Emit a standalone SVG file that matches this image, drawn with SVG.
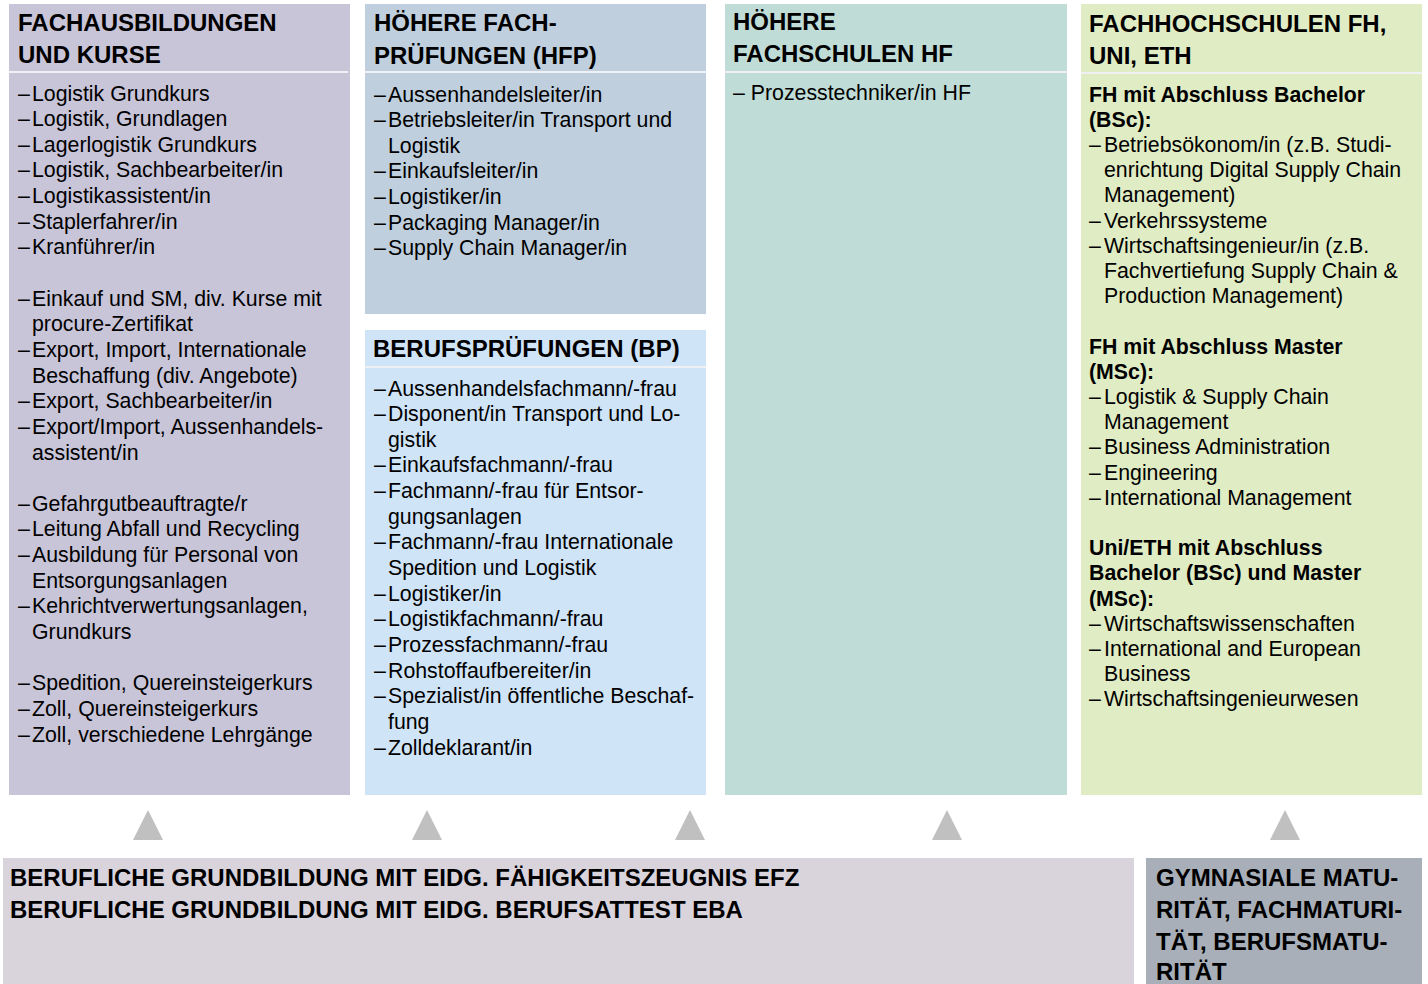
<svg xmlns="http://www.w3.org/2000/svg" width="1428" height="984" viewBox="0 0 1428 984">
<style>
text{font-family:"Liberation Sans",Arial,sans-serif;fill:#000}
.h{font-size:24px;font-weight:bold}
.t{font-size:21.3px}
.b{font-size:21.3px;font-weight:bold}
.sep{stroke:#eef0f4;stroke-width:2}
.tri{fill:#c0c0c0}
</style>
<rect width="1428" height="984" fill="#ffffff"/>

<g id="fachausbildungen">
<rect x="9" y="4" width="341" height="791" fill="#c9c5d8"/>
<line class="sep" x1="9" y1="72" x2="348" y2="72"/>
<text class="h" x="18" y="31">FACHAUSBILDUNGEN</text>
<text class="h" x="18" y="63">UND KURSE</text>
<text class="t" x="18" y="100.5">–<tspan x="32">Logistik Grundkurs</tspan></text>
<text class="t" x="18" y="126.1">–<tspan x="32">Logistik, Grundlagen</tspan></text>
<text class="t" x="18" y="151.8">–<tspan x="32">Lagerlogistik Grundkurs</tspan></text>
<text class="t" x="18" y="177.4">–<tspan x="32">Logistik, Sachbearbeiter/in</tspan></text>
<text class="t" x="18" y="203.1">–<tspan x="32">Logistikassistent/in</tspan></text>
<text class="t" x="18" y="228.7">–<tspan x="32">Staplerfahrer/in</tspan></text>
<text class="t" x="18" y="254.3">–<tspan x="32">Kranführer/in</tspan></text>
<text class="t" x="18" y="305.6">–<tspan x="32">Einkauf und SM, div. Kurse mit</tspan></text>
<text class="t" x="32" y="331.3">procure-Zertifikat</text>
<text class="t" x="18" y="356.9">–<tspan x="32">Export, Import, Internationale</tspan></text>
<text class="t" x="32" y="382.5">Beschaffung (div. Angebote)</text>
<text class="t" x="18" y="408.2">–<tspan x="32">Export, Sachbearbeiter/in</tspan></text>
<text class="t" x="18" y="433.8">–<tspan x="32">Export/Import, Aussenhandels-</tspan></text>
<text class="t" x="32" y="459.5">assistent/in</text>
<text class="t" x="18" y="510.7">–<tspan x="32">Gefahrgutbeauftragte/r</tspan></text>
<text class="t" x="18" y="536.4">–<tspan x="32">Leitung Abfall und Recycling</tspan></text>
<text class="t" x="18" y="562">–<tspan x="32">Ausbildung für Personal von</tspan></text>
<text class="t" x="32" y="587.7">Entsorgungsanlagen</text>
<text class="t" x="18" y="613.3">–<tspan x="32">Kehrichtverwertungsanlagen,</tspan></text>
<text class="t" x="32" y="638.9">Grundkurs</text>
<text class="t" x="18" y="690.2">–<tspan x="32">Spedition, Quereinsteigerkurs</tspan></text>
<text class="t" x="18" y="715.9">–<tspan x="32">Zoll, Quereinsteigerkurs</tspan></text>
<text class="t" x="18" y="741.5">–<tspan x="32">Zoll, verschiedene Lehrgänge</tspan></text>
</g>

<g id="hfp">
<rect x="365" y="4" width="341" height="310" fill="#bfcfdd"/>
<line class="sep" x1="365" y1="72" x2="706" y2="72"/>
<text class="h" x="374" y="31">HÖHERE FACH-</text>
<text class="h" x="374" y="64">PRÜFUNGEN (HFP)</text>
<text class="t" x="374" y="101.5">–<tspan x="388">Aussenhandelsleiter/in</tspan></text>
<text class="t" x="374" y="127.1">–<tspan x="388">Betriebsleiter/in Transport und</tspan></text>
<text class="t" x="388" y="152.8">Logistik</text>
<text class="t" x="374" y="178.4">–<tspan x="388">Einkaufsleiter/in</tspan></text>
<text class="t" x="374" y="204.1">–<tspan x="388">Logistiker/in</tspan></text>
<text class="t" x="374" y="229.7">–<tspan x="388">Packaging Manager/in</tspan></text>
<text class="t" x="374" y="255.3">–<tspan x="388">Supply Chain Manager/in</tspan></text>
</g>

<g id="bp">
<rect x="365" y="330" width="341" height="465" fill="#d0e4f7"/>
<line class="sep" x1="365" y1="367" x2="706" y2="367"/>
<text class="h" x="373" y="357">BERUFSPRÜFUNGEN (BP)</text>
<text class="t" x="374" y="395.5">–<tspan x="388">Aussenhandelsfachmann/-frau</tspan></text>
<text class="t" x="374" y="421.1">–<tspan x="388">Disponent/in Transport und Lo-</tspan></text>
<text class="t" x="388" y="446.8">gistik</text>
<text class="t" x="374" y="472.4">–<tspan x="388">Einkaufsfachmann/-frau</tspan></text>
<text class="t" x="374" y="498.1">–<tspan x="388">Fachmann/-frau für Entsor-</tspan></text>
<text class="t" x="388" y="523.7">gungsanlagen</text>
<text class="t" x="374" y="549.3">–<tspan x="388">Fachmann/-frau Internationale</tspan></text>
<text class="t" x="388" y="575">Spedition und Logistik</text>
<text class="t" x="374" y="600.6">–<tspan x="388">Logistiker/in</tspan></text>
<text class="t" x="374" y="626.3">–<tspan x="388">Logistikfachmann/-frau</tspan></text>
<text class="t" x="374" y="651.9">–<tspan x="388">Prozessfachmann/-frau</tspan></text>
<text class="t" x="374" y="677.5">–<tspan x="388">Rohstoffaufbereiter/in</tspan></text>
<text class="t" x="374" y="703.2">–<tspan x="388">Spezialist/in öffentliche Beschaf-</tspan></text>
<text class="t" x="388" y="728.8">fung</text>
<text class="t" x="374" y="754.5">–<tspan x="388">Zolldeklarant/in</tspan></text>
</g>

<g id="hf">
<rect x="725" y="4" width="342" height="791" fill="#c0dcd6"/>
<line class="sep" x1="725" y1="72" x2="1067" y2="72"/>
<text class="h" x="733" y="30">HÖHERE</text>
<text class="h" x="733" y="62">FACHSCHULEN HF</text>
<text class="t" x="733" y="99.5">– Prozesstechniker/in HF</text>
</g>

<g id="fh">
<rect x="1081" y="4" width="341" height="791" fill="#e0ecc4"/>
<line class="sep" x1="1081" y1="73" x2="1422" y2="73"/>
<text class="h" x="1089" y="32">FACHHOCHSCHULEN FH,</text>
<text class="h" x="1089" y="64">UNI, ETH</text>
<text class="b" x="1089" y="101.5">FH mit Abschluss Bachelor</text>
<text class="b" x="1089" y="126.7">(BSc):</text>
<text class="t" x="1089" y="151.9">–<tspan x="1104">Betriebsökonom/in (z.B. Studi-</tspan></text>
<text class="t" x="1104" y="177.1">enrichtung Digital Supply Chain</text>
<text class="t" x="1104" y="202.3">Management)</text>
<text class="t" x="1089" y="227.5">–<tspan x="1104">Verkehrssysteme</tspan></text>
<text class="t" x="1089" y="252.7">–<tspan x="1104">Wirtschaftsingenieur/in (z.B.</tspan></text>
<text class="t" x="1104" y="277.9">Fachvertiefung Supply Chain &amp;</text>
<text class="t" x="1104" y="303.1">Production Management)</text>
<text class="b" x="1089" y="353.5">FH mit Abschluss Master</text>
<text class="b" x="1089" y="378.7">(MSc):</text>
<text class="t" x="1089" y="403.9">–<tspan x="1104">Logistik &amp; Supply Chain</tspan></text>
<text class="t" x="1104" y="429.1">Management</text>
<text class="t" x="1089" y="454.3">–<tspan x="1104">Business Administration</tspan></text>
<text class="t" x="1089" y="479.5">–<tspan x="1104">Engineering</tspan></text>
<text class="t" x="1089" y="504.7">–<tspan x="1104">International Management</tspan></text>
<text class="b" x="1089" y="555.1">Uni/ETH mit Abschluss</text>
<text class="b" x="1089" y="580.3">Bachelor (BSc) und Master</text>
<text class="b" x="1089" y="605.5">(MSc):</text>
<text class="t" x="1089" y="630.7">–<tspan x="1104">Wirtschaftswissenschaften</tspan></text>
<text class="t" x="1089" y="655.9">–<tspan x="1104">International and European</tspan></text>
<text class="t" x="1104" y="681.1">Business</text>
<text class="t" x="1089" y="706.3">–<tspan x="1104">Wirtschaftsingenieurwesen</tspan></text>
</g>

<g id="connectors">
<polygon class="tri" points="133,840 163,840 148,810"/>
<polygon class="tri" points="412,840 442,840 427,810"/>
<polygon class="tri" points="675,840 705,840 690,810"/>
<polygon class="tri" points="932,840 962,840 947,810"/>
<polygon class="tri" points="1270,840 1300,840 1285,810"/>
</g>

<g id="grundbildung">
<rect x="3" y="858" width="1131" height="126" fill="#d9d3dc"/>
<text class="h" x="10" y="886">BERUFLICHE GRUNDBILDUNG MIT EIDG. FÄHIGKEITSZEUGNIS EFZ</text>
<text class="h" x="10" y="918">BERUFLICHE GRUNDBILDUNG MIT EIDG. BERUFSATTEST EBA</text>
</g>

<g id="maturitaet">
<rect x="1146" y="858" width="276" height="126" fill="#a8afb8"/>
<text class="h" x="1156" y="886">GYMNASIALE MATU-</text>
<text class="h" x="1156" y="918">RITÄT, FACHMATURI-</text>
<text class="h" x="1156" y="950">TÄT, BERUFSMATU-</text>
<text class="h" x="1156" y="980">RITÄT</text>
</g>
</svg>
